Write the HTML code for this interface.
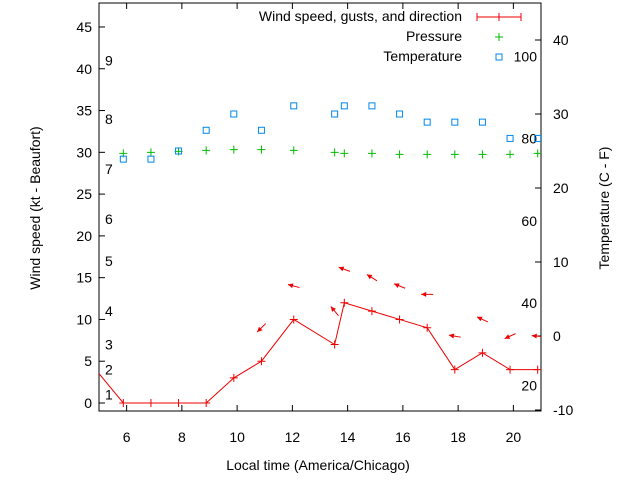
<!DOCTYPE html>
<html><head><meta charset="utf-8"><style>
body{margin:0;background:#fff}
svg{display:block;font-family:"Liberation Sans",sans-serif}
text{fill:#000;font-size:14px}
</style></head><body>
<svg id="c" width="640" height="480" viewBox="0 0 640 480">
<g id="axes"></g>
<g id="marks"></g>
<g id="legend">
<text x="462" y="21" text-anchor="end">Wind speed, gusts, and direction</text>
<line x1="477" y1="17" x2="521" y2="17" stroke="#e00"/>
<line x1="477" y1="13" x2="477" y2="21" stroke="#e00"/><line x1="499" y1="13" x2="499" y2="21" stroke="#e00"/><line x1="521" y1="13" x2="521" y2="21" stroke="#e00"/>
<text x="462" y="41" text-anchor="end">Pressure</text>
<path d="M495 37h8M499 33v8" stroke="#0b0"/>
<text x="462" y="61" text-anchor="end">Temperature</text>
<rect x="496" y="54" width="6" height="6" fill="none" stroke="#08e"/>
</g>
<text x="318" y="470" text-anchor="middle">Local time (America/Chicago)</text>
<text transform="translate(40,208) rotate(-90)" text-anchor="middle">Wind speed (kt - Beaufort)</text>
<text transform="translate(609,208) rotate(-90)" text-anchor="middle">Temperature (C - F)</text>
</svg>
<script>
const times=[5.88,6.88,7.88,8.88,9.88,10.88,12.05,13.53,13.88,14.88,15.88,16.88,17.88,18.88,19.88,20.88];
const windSpeed=[0,0,0,0,3,5,10,7,12,11,10,9,4,6,4,4];
const prevTime=4.88, prevSpeed=4;
const gustTimes=[10.88,12.05,13.53,13.88,14.88,15.88,16.88,17.88,18.88,19.88,20.88];
const gustSpeed=[9,14,11,16,15,14,13,8,10,8,8];
const windDir=[45,105,140,110,122,112,90,100,115,65,95];
const tempC=[23.9,23.9,25,27.8,30,27.8,31.1,30,31.1,31.1,30,28.9,28.9,28.9,26.7,26.7];
const pressure=[29.88,30.0,30.12,30.24,30.32,30.32,30.24,30.0,29.88,29.88,29.76,29.76,29.76,29.76,29.76,29.88];
const xTicks=[6,8,10,12,14,16,18,20];
const yTicks=[0,5,10,15,20,25,30,35,40,45];
const y2Ticks=[-10,0,10,20,30,40];
const beaufort=[1,2,3,4,5,6,7,8,9];
const beaufortKt=[1,4,7,11,17,22,28,34,41];
const fTicks=[20,40,60,80,100];

const L=99,R=541,T=3,B=411;
const X=h=>L+(h-5)*(R-L)/16;
const Y=v=>403-v*8.356;
const Y2=c=>336-c*7.4;
const NS="http://www.w3.org/2000/svg";
function mk(tag,attrs,parent,txt){const e=document.createElementNS(NS,tag);for(const k in attrs)e.setAttribute(k,attrs[k]);if(txt!==undefined)e.textContent=txt;parent.appendChild(e);return e;}
const ax=document.getElementById('axes'),mg=document.getElementById('marks');
let fr=mk('rect',{x:L,y:T,width:R-L,height:B-T,fill:'none',stroke:'#000'},ax);


xTicks.forEach(h=>{const x=X(h);
 mk('line',{x1:x,y1:B,x2:x,y2:B-6,stroke:'#000'},ax);
 mk('line',{x1:x,y1:T,x2:x,y2:T+6,stroke:'#000'},ax);
 let t=mk('text',{x:x,y:442,'text-anchor':'middle'},ax,h);
 
 });
yTicks.forEach(v=>{const y=Y(v);
 mk('line',{x1:L,y1:y,x2:L+6,y2:y,stroke:'#000'},ax);
 let t=mk('text',{x:92,y:y+5,'text-anchor':'end'},ax,v);
 
 });
y2Ticks.forEach(c=>{const y=Y2(c);
 mk('line',{x1:R,y1:y,x2:R-6,y2:y,stroke:'#000'},ax);
 let t=mk('text',{x:553,y:y+5},ax,c);
 
 });
beaufort.forEach((b,i)=>{let t=mk('text',{x:105,y:Y(beaufortKt[i])+5},ax,b);
 
 });
fTicks.forEach(f=>{let t=mk('text',{x:537,y:Y2((f-32)/1.8)+5,'text-anchor':'end'},ax,f);
 
 });
const defs=mk('defs',{},document.getElementById('c'));
const cp=mk('clipPath',{id:'clip'},defs);mk('rect',{x:L,y:T,width:R-L,height:B-T},cp);
mg.setAttribute('clip-path','url(#clip)');
let pts=[[X(prevTime),Y(prevSpeed)]].concat(times.map((h,i)=>[X(h),Y(windSpeed[i])]));
let pl=mk('polyline',{points:pts.map(p=>p.join(',')).join(' '),fill:'none',stroke:'#e00','stroke-width':1},mg);


times.forEach((h,i)=>{const x=X(h),y=Y(windSpeed[i]);
 let p=mk('path',{d:`M${x-4} ${y}h8M${x} ${y-4}v8`,stroke:'#e00'},mg);
 
 });
gustTimes.forEach((h,i)=>{const x=X(h),y=Y(gustSpeed[i]);const d=windDir[i]*Math.PI/180;
 const dx=-Math.sin(d),dy=Math.cos(d),len=6;
 const hx=x+dx*len,hy=y+dy*len,tx=x-dx*len,ty=y-dy*len;
 const px=-dy,py=dx;
 let g=mk('g',{},mg);
 
 
 mk('line',{x1:tx,y1:ty,x2:hx,y2:hy,stroke:'#e00'},g);
 mk('polygon',{points:`${hx},${hy} ${hx-dx*5+px*2.5},${hy-dy*5+py*2.5} ${hx-dx*5-px*2.5},${hy-dy*5-py*2.5}`,fill:'#e00'},g);});
times.forEach((h,i)=>{const x=X(h),y=Y(pressure[i]);
 let p=mk('path',{d:`M${x-4} ${y}h8M${x} ${y-4}v8`,stroke:'#0b0'},mg);
 
 });
times.forEach((h,i)=>{const x=X(h),y=Y2(tempC[i]);
 let r=mk('rect',{x:x-3,y:y-3,width:6,height:6,fill:'none',stroke:'#08e'},mg);
 
 });
</script>
</body></html>
